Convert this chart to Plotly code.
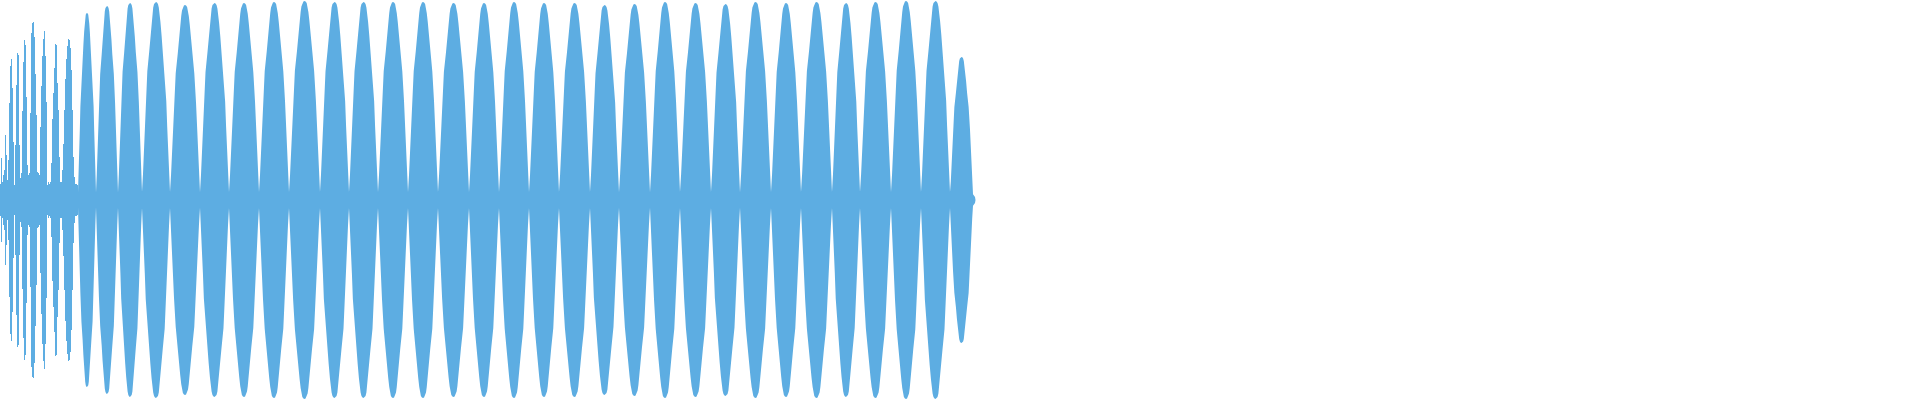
import numpy as np
import plotly.graph_objects as go

# ---- data (amplitudes in pixels of half-height, full scale = 200) ----
FULL_SCALE = 200.0

# per-column peak amplitude of the dense opening section (columns 0..77)
early_peak = [16, 42, 18, 25, 30, 65, 45, 20, 40, 97,
              134, 141, 112, 58, 15, 55, 115, 147, 145, 55,
              22, 27, 89, 138, 160, 155, 103, 35, 25, 27,
              87, 167, 177, 178, 163, 126, 85, 28, 27, 25,
              73, 114, 144, 161, 169, 144, 98, 15, 18, 16,
              18, 37, 81, 107, 132, 156, 155, 117, 90, 43,
              18, 18, 30, 56, 90, 121, 141, 154, 161, 160,
              152, 130, 90, 43, 23, 16, 16, 15]

# beat lobes: boundaries (column positions where lobes meet) and peak amplitude of each lobe
lobe_bounds = [78, 96, 118, 142, 170, 200, 229, 259, 289, 320, 349, 378, 408, 438,
               469, 499, 529, 559, 590, 619, 650, 680, 711, 740, 771, 801, 832, 860,
               891, 921, 950, 973]
lobe_peak = [187, 194, 197, 198, 195, 197, 197, 198, 199, 198, 198, 198, 198, 197,
             197, 198, 197, 197, 195, 196, 198, 197, 196, 198, 197, 198, 197, 198,
             199, 199, 143]

# measured lobe profile: fraction across a lobe -> amplitude relative to lobe peak
profile_frac = [0.0, 0.035, 0.07, 0.10, 0.133, 0.19, 0.258, 0.30, 0.342, 0.375, 0.40,
                0.43, 0.465, 0.50]
profile_rel = [0.04, 0.13, 0.24, 0.37, 0.50, 0.65, 0.75, 0.83, 0.90, 0.945, 0.972,
               0.99, 0.998, 1.00]

tail_x = [975, 975.5]
tail_amp = [3, 0]

WAVE_COLOR = "#5DADE2"

# ---- build traces ----
fig = go.Figure()

early_x = [i + 0.5 for i in range(len(early_peak))]
early_a = np.array(early_peak) / FULL_SCALE
fig.add_trace(go.Bar(
    x=early_x, y=2 * early_a, base=-early_a, width=1.0,
    marker=dict(color=WAVE_COLOR, line=dict(width=0)),
    hoverinfo="skip", showlegend=False,
))

# symmetric profile (rise + fall)
full_frac = profile_frac + [1 - f for f in reversed(profile_frac[:-1])]
full_rel = profile_rel + list(reversed(profile_rel[:-1]))

ux, ua = [], []
for i, pk in enumerate(lobe_peak):
    b0, b1 = lobe_bounds[i], lobe_bounds[i + 1]
    for j, (f, r) in enumerate(zip(full_frac, full_rel)):
        if i > 0 and j == 0:
            continue
        ux.append(b0 + f * (b1 - b0))
        ua.append(r * pk)
ux += tail_x
ua += tail_amp
ua = np.array(ua) / FULL_SCALE

poly_x = list(ux) + list(reversed(ux))
poly_y = list(ua) + list(-ua[::-1])

fig.add_trace(go.Scatter(
    x=poly_x, y=poly_y, mode="lines", fill="toself",
    fillcolor=WAVE_COLOR, line=dict(width=0, color=WAVE_COLOR),
    hoverinfo="skip", showlegend=False,
))

fig.update_layout(
    width=1920, height=400,
    margin=dict(l=0, r=0, t=0, b=0),
    paper_bgcolor="white", plot_bgcolor="white",
    showlegend=False, barmode="overlay",
    xaxis=dict(range=[0, 1920], visible=False, fixedrange=True),
    yaxis=dict(range=[-1, 1], visible=False, fixedrange=True),
)

fig.write_html(
    "out.html",
    config={"displayModeBar": False},
    post_script="document.body.style.margin='0';document.body.style.overflow='hidden';",
)
